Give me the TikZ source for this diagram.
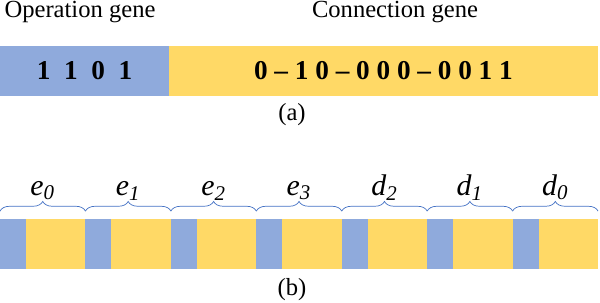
\documentclass[tikz,border=0pt]{standalone}
\usepackage{fontspec}
\setmainfont{Liberation Serif}
\usetikzlibrary{positioning,decorations.pathreplacing}
\definecolor{opblue}{HTML}{8FAADC}
\definecolor{conyellow}{HTML}{FFD966}
\definecolor{bracecol}{HTML}{4472C4}

\begin{document}
\begin{tikzpicture}[x=0.02cm,y=-0.02cm,
  cell/.style={inner sep=0,outer sep=0,minimum height=1cm,anchor=north west},
  gbrace/.style={draw=bracecol,thin,decorate,decoration={brace,amplitude=5.5pt}},
  caption/.style={font=\fontsize{14}{16}\selectfont}]
\useasboundingbox (0,0) rectangle (600,302);
% (a) whole genome
\node[caption] (opl) at (80,12) {Operation gene};
\node[caption] (conl) at (395,12) {Connection gene};
\node[cell,fill=opblue,minimum width=3.38cm] (op) at (0,46)
  {\fontsize{15.5}{17}\selectfont\bfseries 1\hspace{0.5em}1\hspace{0.5em}0\hspace{0.5em}1};
\node[cell,fill=conyellow,minimum width=8.58cm,right=0pt of op] (con)
  {\fontsize{15.5}{17}\selectfont\bfseries 0 -- 1 0 -- 0 0 0 -- 0 0 1 1};
\node[caption] (capa) at (292,115) {(a)};
% (b) one block per node
\foreach \i/\n/\k in {0/e/0,1/e/1,2/e/2,3/e/3,4/d/2,5/d/1,6/d/0}{
  \node[cell,fill=opblue,minimum width=0.52cm] (b\i) at ({\i*85.43},219) {};
  \node[cell,fill=conyellow,minimum width=1.19cm,right=0pt of b\i] (y\i) {};
  \draw[gbrace] ([yshift=4.5pt]b\i.north west) -- ([yshift=4.5pt]y\i.north east)
    node[midway,above=5pt,inner sep=1pt,font=\fontsize{17}{19}\selectfont] (l\i)
    {\textit{\n}\textsubscript{\textit{\k}}};
}
\node[caption] (capb) at (292,290) {(b)};
\end{tikzpicture}
\end{document}
